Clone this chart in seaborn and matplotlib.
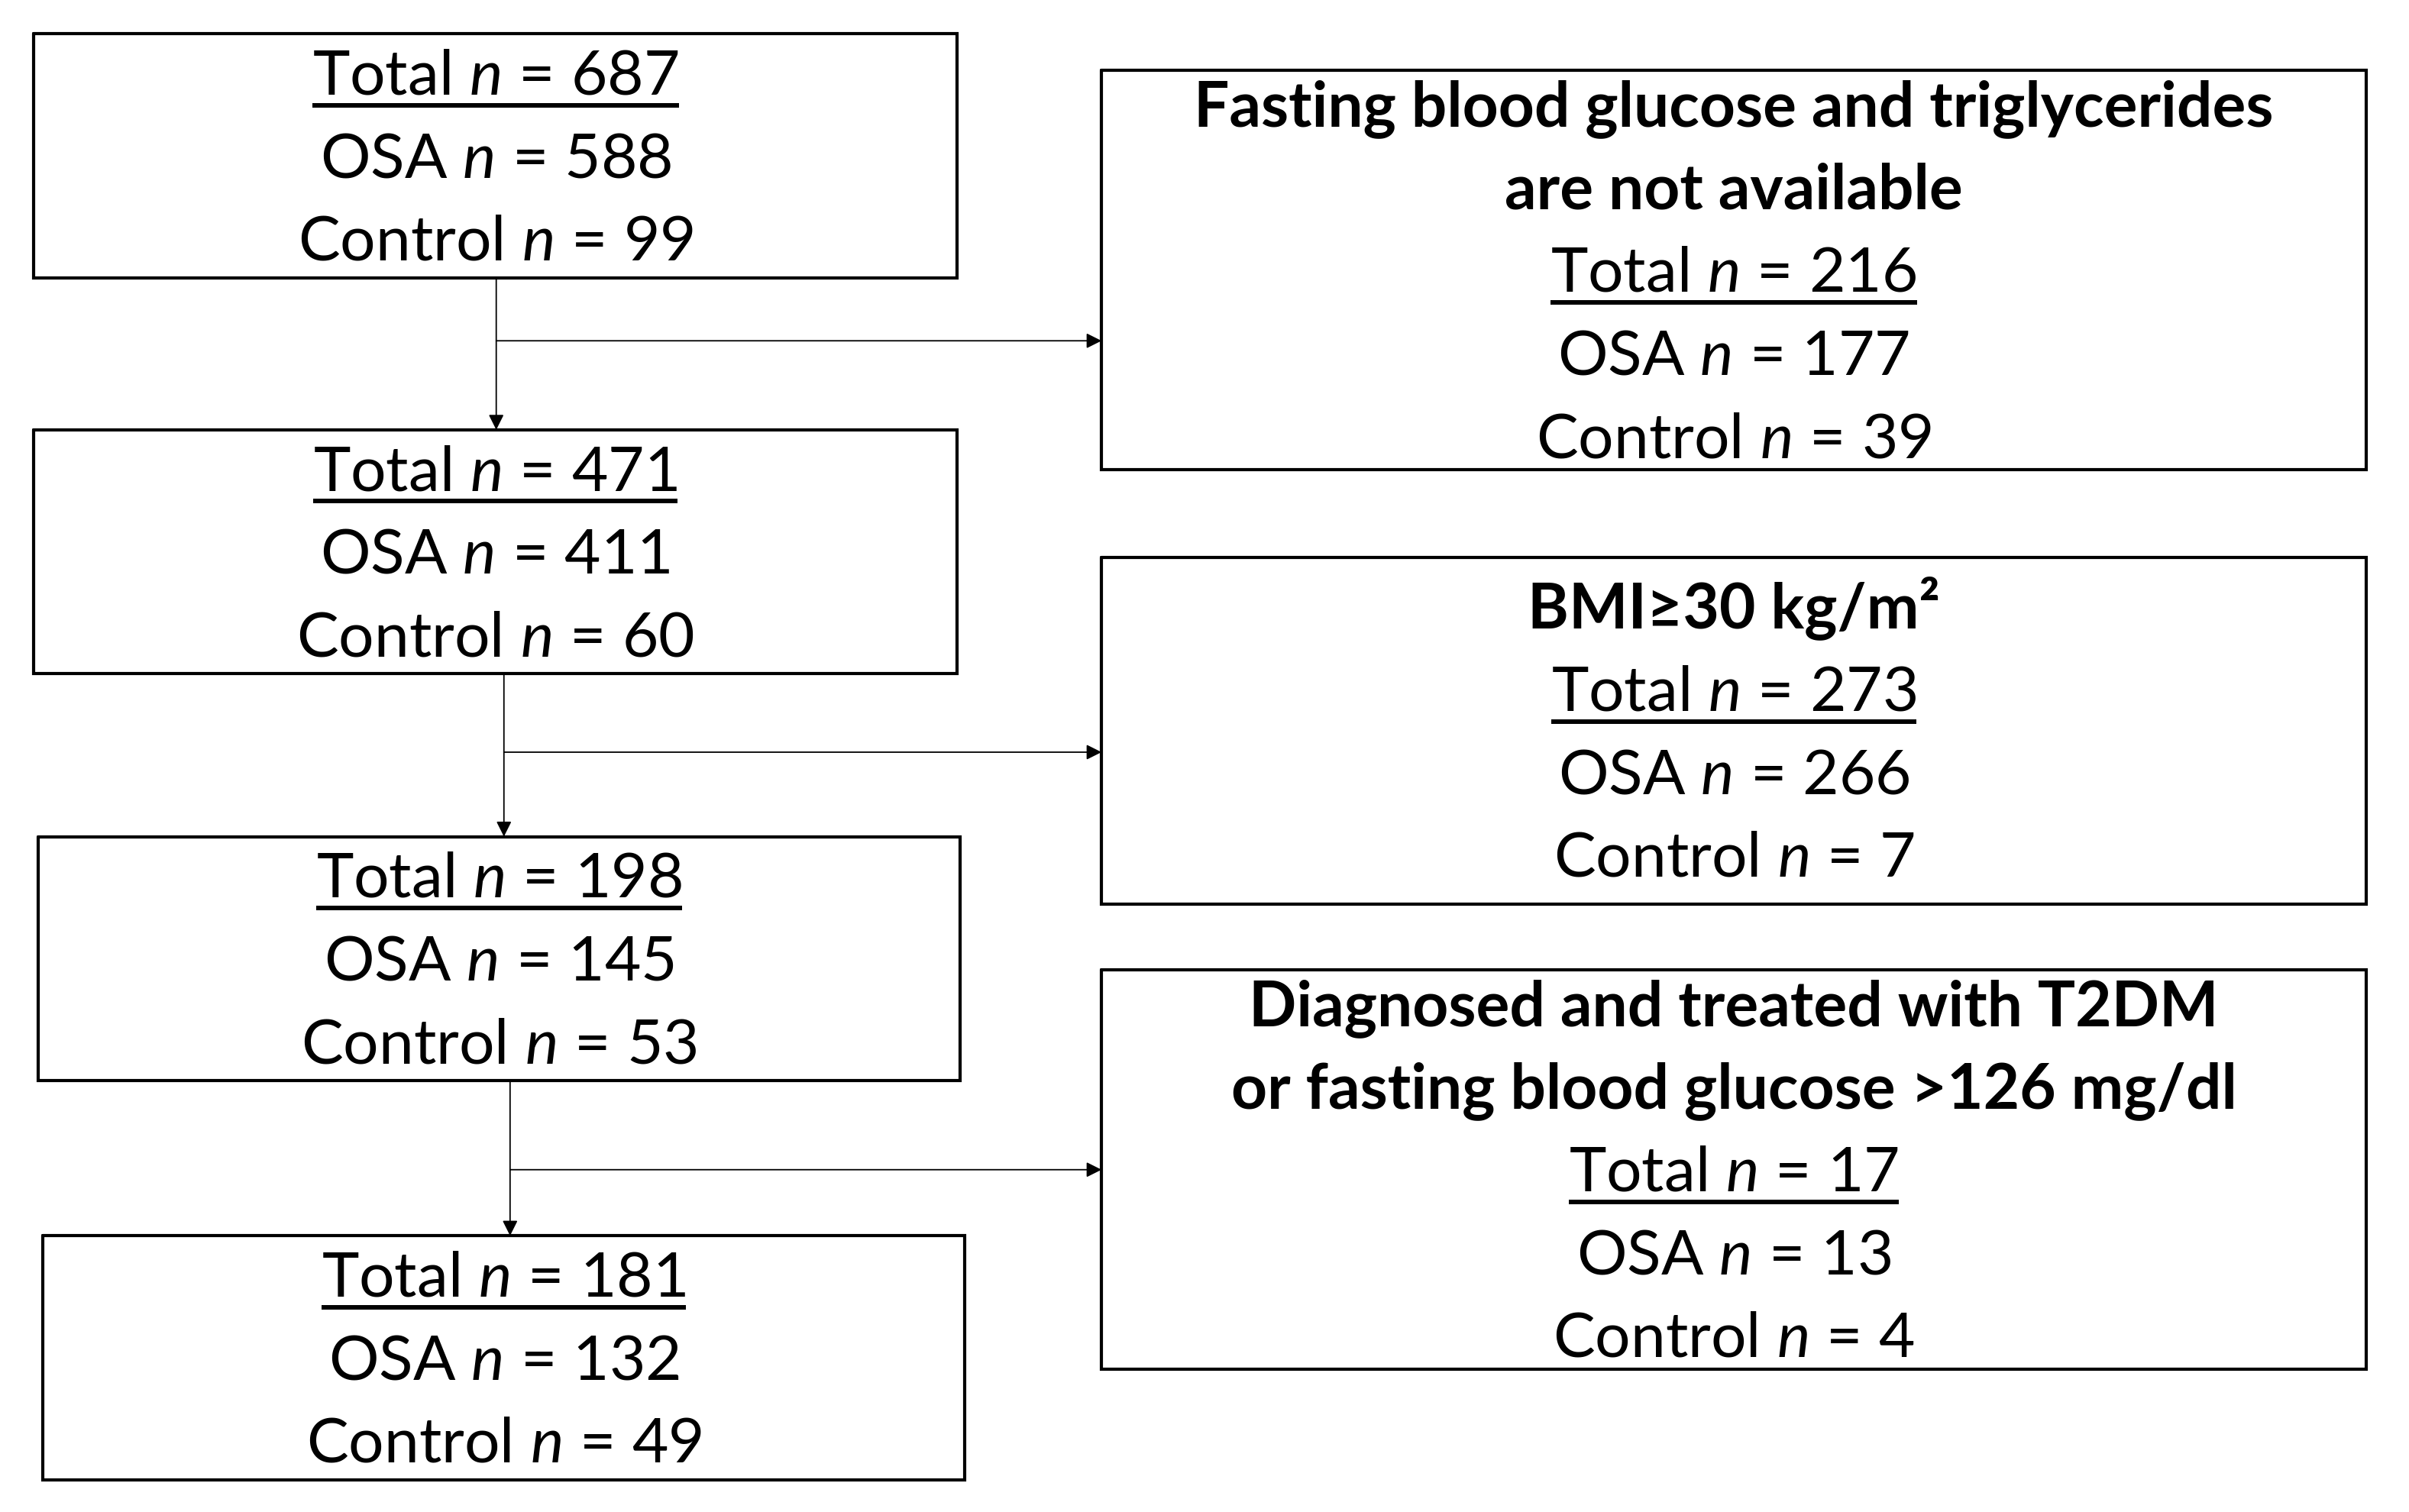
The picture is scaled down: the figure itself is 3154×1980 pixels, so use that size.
import matplotlib
matplotlib.use("Agg")
import matplotlib.pyplot as plt
import seaborn as sns

# ---- data ----
left_totals = [687, 471, 198, 181]
left_osa = [588, 411, 145, 132]
left_control = [99, 60, 53, 49]

excl_titles = [
    ["Fasting blood glucose and triglycerides", "are not available"],
    ["BMI\u226530 kg/m\u00b2"],
    ["Diagnosed and treated with T2DM", "or fasting blood glucose >126 mg/dl"],
]
excl_totals = [216, 273, 17]
excl_osa = [177, 266, 13]
excl_control = [39, 7, 4]

# ---- layout (units ~ half pixels) ----
left_boxes = [(22, 623, 22, 181), (22, 623, 280, 439), (25, 625, 545, 704), (28, 628, 805, 964)]
right_boxes = [(717, 1540, 46, 306), (717, 1540, 363, 589), (717, 1540, 632, 892)]
stem_x = [323, 328, 332]
branch_y = [222, 490, 762]
LINE_GAP = 54
FS = 59

sns.set_theme(style="white")
plt.rcParams["font.family"] = ["Lato", "DejaVu Sans"]
plt.rcParams["mathtext.fontset"] = "custom"
plt.rcParams["mathtext.rm"] = "Lato"
plt.rcParams["mathtext.it"] = "Lato:italic"

fig = plt.figure(figsize=(31.54, 19.8), dpi=100)
ax = fig.add_axes([0, 0, 1, 1])
ax.set_xlim(0, 1568)
ax.set_ylim(985, 0)
ax.axis("off")


def draw_box(ax, rect):
    x0, x1, y0, y1 = rect
    ax.plot([x0, x1, x1, x0, x0], [y0, y0, y1, y1, y0], color="black", lw=3, solid_joinstyle="miter")


def box_lines(ax, rect, lines):
    """lines: list of (text, bold, underline)"""
    x0, x1, y0, y1 = rect
    cx = (x0 + x1) / 2
    cy = (y0 + y1) / 2
    n = len(lines)
    texts = []
    for i, (txt, bold, under) in enumerate(lines):
        yc = cy + (i - (n - 1) / 2) * LINE_GAP
        t = ax.text(cx, yc + 14, txt, ha="center", va="baseline", fontsize=FS,
                    fontweight="bold" if bold else "normal", color="black")
        texts.append((t, yc, under))
    return texts


underlined = []
for rect, tot, osa, ctl in zip(left_boxes, left_totals, left_osa, left_control):
    draw_box(ax, rect)
    underlined += box_lines(ax, rect, [
        (f"Total $n$ = {tot}", False, True),
        (f"OSA $n$ = {osa}", False, False),
        (f"Control $n$ = {ctl}", False, False),
    ])

for rect, ttl, tot, osa, ctl in zip(right_boxes, excl_titles, excl_totals, excl_osa, excl_control):
    draw_box(ax, rect)
    rows = [(s, True, False) for s in ttl]
    rows += [
        (f"Total $n$ = {tot}", False, True),
        (f"OSA $n$ = {osa}", False, False),
        (f"Control $n$ = {ctl}", False, False),
    ]
    underlined += box_lines(ax, rect, rows)

# arrows
for i, sx in enumerate(stem_x):
    top = left_boxes[i][3]
    bot = left_boxes[i + 1][2]
    ax.annotate("", xy=(sx, bot), xytext=(sx, top),
                arrowprops=dict(arrowstyle="-|>", color="black", lw=1.3, mutation_scale=30,
                                shrinkA=0, shrinkB=0))
    ax.annotate("", xy=(right_boxes[i][0], branch_y[i]), xytext=(sx, branch_y[i]),
                arrowprops=dict(arrowstyle="-|>", color="black", lw=1.3, mutation_scale=30,
                                shrinkA=0, shrinkB=0))

# underline the "Total" rows
fig.canvas.draw()
renderer = fig.canvas.get_renderer()
inv = ax.transData.inverted()
for t, yc, under in underlined:
    if not under:
        continue
    bb = t.get_window_extent(renderer)
    (xa, _), (xb, _) = inv.transform([(bb.x0, bb.y0), (bb.x1, bb.y0)])
    ax.plot([xa, xb], [yc + 21, yc + 21], color="black", lw=4.3, solid_capstyle="butt")

fig.savefig("out.png", dpi=100, facecolor="white")
